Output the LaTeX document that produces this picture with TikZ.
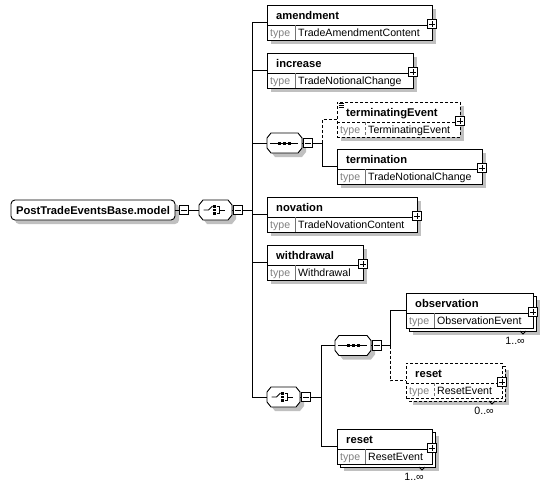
\documentclass[tikz,border=0pt]{standalone}
\usepackage{fontspec}
\setmainfont{Liberation Sans}
\definecolor{shadowgray}{HTML}{C0C0C0}
\definecolor{typegray}{HTML}{808080}

\begin{document}
\begin{tikzpicture}[
  x=1pt,
  y=-1pt,
  line join=miter,
  wire/.style={draw=black,line width=0.9pt},
  optwire/.style={wire,dash pattern=on 3pt off 2pt},
  optional/.style={dash pattern=on 3pt off 2pt},
  shadowfill/.style={fill=shadowgray,draw=none},
  elembox/.style={draw=black,fill=white,line width=0.9pt,inner sep=0pt,outer sep=0pt},
  rootbox/.style={elembox,rounded corners=4pt},
  titletext/.style={font=\fontsize{11.2}{13}\selectfont\bfseries,inner sep=0pt},
  typelabel/.style={font=\fontsize{10.6}{12}\selectfont,text=typegray,inner sep=0pt},
  typetext/.style={font=\fontsize{10.6}{12}\selectfont,inner sep=0pt},
  occurs/.style={font=\fontsize{10.6}{12}\selectfont,inner sep=0pt,anchor=base east},
  togglebox/.style={draw=black,fill=white,line width=1pt,minimum size=9.5pt,inner sep=0pt,outer sep=0pt},
  plusbox/.style={togglebox,path picture={
    \draw[line width=0.9pt] ([xshift=2pt]path picture bounding box.west) -- ([xshift=-2pt]path picture bounding box.east)
      ([yshift=-2pt]path picture bounding box.north) -- ([yshift=2pt]path picture bounding box.south);}},
  minusbox/.style={togglebox,path picture={
    \draw[line width=0.9pt] ([xshift=2pt]path picture bounding box.west) -- ([xshift=-2pt]path picture bounding box.east);}}
]
  \useasboundingbox (0,0) rectangle (550,490);

  % element box without shadow: name, left, top, width, title, type, border style
  \newcommand{\elementcore}[7]{%
    \node[elembox,#7,minimum width=#4,minimum height=35,anchor=north west] (#1) at (#2,#3) {};
    \draw[line width=0.9pt,#7] (#2,#3+20) -- ++(#4,0);
    \draw[line width=0.9pt,draw=black!55,#7] (#2+28,#3+20) -- ++(0,15);
    \node[titletext,anchor=base west] (#1-title) at (#2+9,#3+14.5) {#5};
    \node[typelabel,anchor=base west] (#1-tag) at (#2+3,#3+31) {type};
    \node[typetext,anchor=base west] (#1-type) at (#2+31,#3+31) {#6};
    \node[plusbox] (#1-plus) at (#2+#4,#3+19) {};
  }
  \newcommand{\drawelement}[7]{%
    \path[shadowfill] (#2+4,#3+4) rectangle ++(#4,35);
    \elementcore{#1}{#2}{#3}{#4}{#5}{#6}{#7}
  }
  % repeated element: same as above plus occurrence text
  \newcommand{\drawmultielement}[8]{%
    \path[shadowfill] (#2+7,#3+7) rectangle ++(#4,35);
    \draw[elembox,#7] (#2+3,#3+3) rectangle ++(#4,35);
    \draw[line width=0.9pt] (#2+#4-13,#3+38) -- ++(3,3) -- ++(3,-3);
    \elementcore{#1}{#2}{#3}{#4}{#5}{#6}{#7}
    \node[occurs] (#1-occurs) at (#2+#4-8,#3+51) {#8};
  }
  % compositor octagon: name, left, mid y, width
  \newcommand{\octpath}[3]{(#1+4,#2-10) -- (#1+#3-4,#2-10) -- (#1+#3,#2-5) -- (#1+#3,#2+5)
    -- (#1+#3-4,#2+10) -- (#1+4,#2+10) -- (#1,#2+5) -- (#1,#2-5) -- cycle}
  \newcommand{\drawcompositor}[4]{%
    \path[shadowfill,shift={(4,4)}] \octpath{#2}{#3}{#4};
    \path[elembox] \octpath{#2}{#3}{#4};
    \node[inner sep=0pt,minimum width=#4,minimum height=20] (#1) at (#2+#4/2,#3) {};
    \node[minusbox] (#1-minus) at (#2+#4+6,#3) {};
  }
  \newcommand{\sequenceicon}[1]{%
    \draw[line width=0.9pt] ([xshift=3pt]#1.west) -- ([xshift=-4pt]#1.east);
    \foreach \dx in {-5,0,5} {
      \fill[black] ([xshift=\dx pt]#1.center) ++(-1.5,-1.5) rectangle ++(3,3);
    }
  }
  \newcommand{\choiceicon}[1]{%
    \draw[line width=0.9pt] (#1.center) ++(-12,0) -- ++(5,0) -- ++(4,-4);
    \foreach \dy in {-3.5,0,3.5} {
      \fill[black] (#1.center) ++(-2.2,\dy-1.2) rectangle ++(2.4,2.4);
    }
    \draw[line width=0.9pt] (#1.center) ++(1.2,-3.5) -- ++(2.3,0) -- ++(0,7) -- ++(-2.3,0);
    \draw[line width=0.9pt] (#1.center) ++(3.5,0) -- ++(5.5,0);
  }

  % root group
  \path[shadowfill,rounded corners=4pt] (15,204) rectangle (179,224);
  \node[rootbox,minimum width=164,minimum height=20] (root) at (93,210) {};
  \node[titletext] (root-title) at (root.center) {PostTradeEventsBase.model};
  \node[minusbox] (root-minus) at (184,210) {};

  % compositors
  \drawcompositor{rootchoice}{199}{210}{33}
  \choiceicon{rootchoice}
  \drawcompositor{seqterm}{267}{143}{35}
  \sequenceicon{seqterm}
  \drawcompositor{choicereset}{267}{397}{33}
  \choiceicon{choicereset}
  \drawcompositor{seqobs}{335}{345.5}{36}
  \sequenceicon{seqobs}

  % elements
  \drawelement{amendment}{267}{5}{165}{amendment}{TradeAmendmentContent}{solid}
  \drawelement{increase}{267}{53}{146}{increase}{TradeNotionalChange}{solid}
  \drawelement{terminatingEvent}{337}{102}{123}{terminatingEvent}{TerminatingEvent}{optional}
  \foreach \dy in {1.5,3.5,5.5} {
    \draw[line width=0.7pt] (338.5,102+\dy) -- ++(5,0);
  }
  \drawelement{termination}{337}{149}{145}{termination}{TradeNotionalChange}{solid}
  \drawelement{novation}{267}{197}{150}{novation}{TradeNovationContent}{solid}
  \drawelement{withdrawal}{267}{245}{96}{withdrawal}{Withdrawal}{solid}
  \drawmultielement{observation}{406}{293}{127}{observation}{ObservationEvent}{solid}{1..∞}
  \drawmultielement{resetopt}{406}{363}{96}{reset}{ResetEvent}{optional}{0..∞}
  \drawmultielement{reset}{337}{429}{95}{reset}{ResetEvent}{solid}{1..∞}

  % connectors
  \coordinate (trunk) at (252,210);
  \coordinate (termtrunk) at (322,143);
  \coordinate (resettrunk) at (321,397);
  \coordinate (obstrunk) at (390,345.5);
  \draw[wire] (root.east) -- (root-minus.west);
  \draw[wire] (root-minus.east) -- (rootchoice.west);
  \draw[wire] (rootchoice.east) -- (rootchoice-minus.west);
  \draw[wire] (rootchoice-minus.east) -- (trunk);
  \draw[wire] (amendment.west -| trunk) -- (choicereset.west -| trunk);
  \foreach \n in {amendment,increase,seqterm,novation,withdrawal,choicereset} {
    \draw[wire] (\n.west -| trunk) -- (\n.west);
  }
  \foreach \n in {seqterm,choicereset,seqobs} {
    \draw[wire] (\n.east) -- (\n-minus.west);
  }
  \draw[wire] (seqterm-minus.east) -- (termtrunk) |- (termination.west);
  \draw[optwire] (termtrunk) |- (terminatingEvent.west);
  \draw[wire] (choicereset-minus.east) -- (resettrunk);
  \draw[wire] (seqobs.west -| resettrunk) |- (reset.west);
  \draw[wire] (seqobs.west -| resettrunk) -- (seqobs.west);
  \draw[wire] (seqobs-minus.east) -- (obstrunk) |- (observation.west);
  \draw[optwire] (obstrunk) |- (resetopt.west);
\end{tikzpicture}
\end{document}
